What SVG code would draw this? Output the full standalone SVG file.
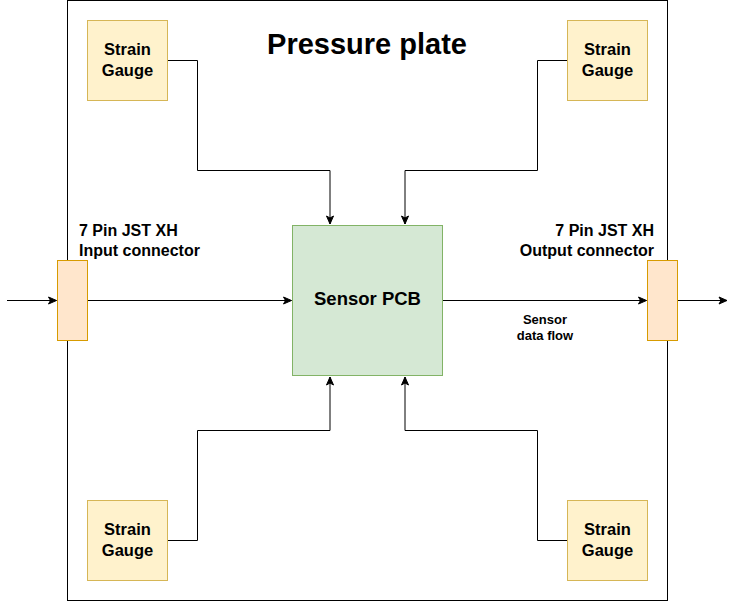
<svg xmlns="http://www.w3.org/2000/svg" width="736" height="601" viewBox="0 0 736 601">
<style>
text{font-family:"Liberation Sans",Arial,sans-serif;font-weight:bold;fill:#000}
.gauge{fill:#fff2cc;stroke:#d6b656;stroke-width:1}
.conn{fill:#ffe6cc;stroke:#d79b00;stroke-width:1}
.pcb{fill:#d5e8d4;stroke:#82b366;stroke-width:1}
.edge{fill:none;stroke:#000;stroke-width:1}
.g{font-size:16.5px;text-anchor:middle}
.lbl{font-size:16px}
</style>
<defs>
<marker id="arr" markerUnits="userSpaceOnUse" markerWidth="10" markerHeight="10" viewBox="0 0 10 10" refX="9" refY="5" orient="auto">
<path d="M1,1.5 L9,5 L1,8.5 L3,5 Z" fill="#000" stroke="#000" stroke-width="1"/>
</marker>
</defs>
<g id="plate">
<rect x="67.5" y="0.5" width="600" height="600" fill="#fff" stroke="#000"/>
<text x="367" y="54" font-size="29" text-anchor="middle">Pressure plate</text>
</g>
<g id="connectors">
<path class="edge" d="M167.5,60.5 H197.5 V170.5 H330 V224" marker-end="url(#arr)"/>
<path class="edge" d="M567.5,60.5 H537.5 V170.5 H405 V224" marker-end="url(#arr)"/>
<path class="edge" d="M167.5,540.5 H197.5 V430.5 H330 V377" marker-end="url(#arr)"/>
<path class="edge" d="M567.5,540.5 H537.5 V430.5 H405 V377" marker-end="url(#arr)"/>
<path class="edge" d="M7,300.5 H56.5" marker-end="url(#arr)"/>
<path class="edge" d="M87.5,300.5 H291.5" marker-end="url(#arr)"/>
<path class="edge" d="M442.5,300.5 H646.5" marker-end="url(#arr)"/>
<path class="edge" d="M677.5,300.5 H727" marker-end="url(#arr)"/>
<text x="545" y="324" font-size="13" text-anchor="middle">Sensor</text>
<text x="545" y="340" font-size="13" text-anchor="middle">data flow</text>
</g>
<g id="gauge-tl">
<rect class="gauge" x="87.5" y="20.5" width="80" height="80"/>
<text class="g" x="127.5" y="54.5">Strain</text>
<text class="g" x="127.5" y="75.5">Gauge</text>
</g>
<g id="gauge-tr">
<rect class="gauge" x="567.5" y="20.5" width="80" height="80"/>
<text class="g" x="607.5" y="54.5">Strain</text>
<text class="g" x="607.5" y="75.5">Gauge</text>
</g>
<g id="gauge-bl">
<rect class="gauge" x="87.5" y="500.5" width="80" height="80"/>
<text class="g" x="127.5" y="534.5">Strain</text>
<text class="g" x="127.5" y="555.5">Gauge</text>
</g>
<g id="gauge-br">
<rect class="gauge" x="567.5" y="500.5" width="80" height="80"/>
<text class="g" x="607.5" y="534.5">Strain</text>
<text class="g" x="607.5" y="555.5">Gauge</text>
</g>
<g id="pcb">
<rect class="pcb" x="292.5" y="225.5" width="150" height="150"/>
<text x="367.5" y="305" font-size="18.5" text-anchor="middle">Sensor PCB</text>
</g>
<g id="input-connector">
<rect class="conn" x="57.5" y="260.5" width="30" height="80"/>
<text class="lbl" x="79" y="235.5">7 Pin JST XH</text>
<text class="lbl" x="79" y="255.5">Input connector</text>
</g>
<g id="output-connector">
<rect class="conn" x="647.5" y="260.5" width="30" height="80"/>
<text class="lbl" x="654" y="235.5" text-anchor="end">7 Pin JST XH</text>
<text class="lbl" x="654" y="255.5" text-anchor="end">Output connector</text>
</g>
</svg>
